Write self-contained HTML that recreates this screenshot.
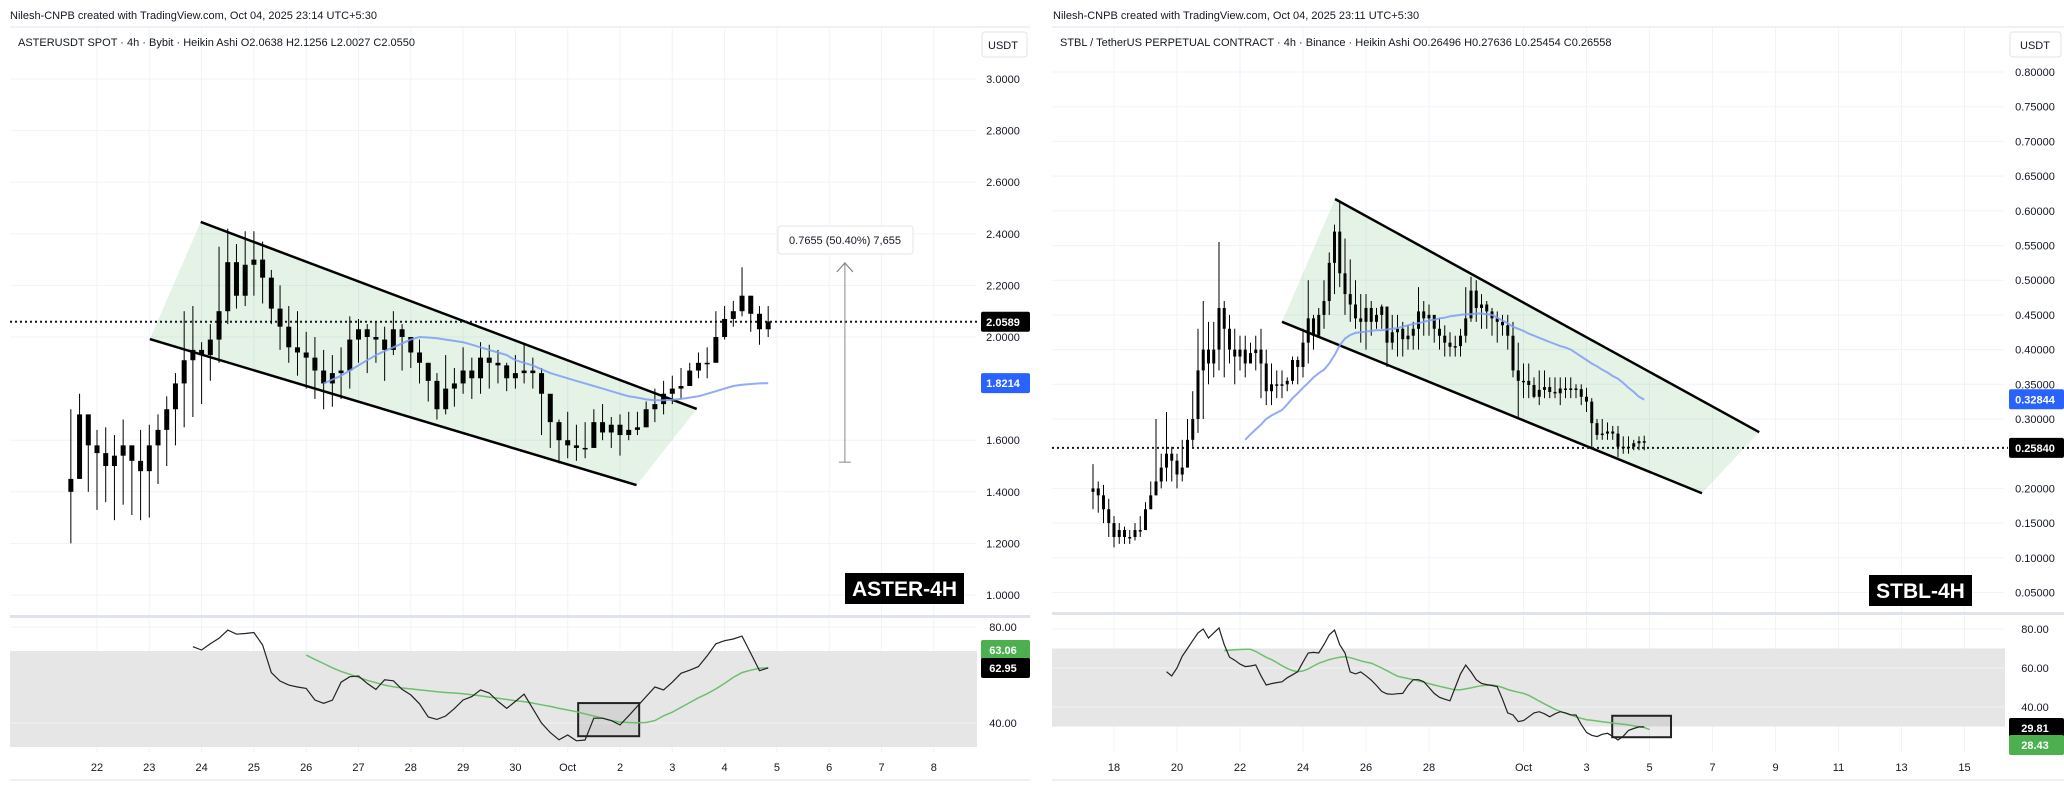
<!DOCTYPE html>
<html><head><meta charset="utf-8">
<style>
html,body{margin:0;padding:0;background:#fff;}
svg{display:block;font-family:"Liberation Sans",sans-serif;}
</style></head>
<body>
<svg id="c" width="2064" height="800" viewBox="0 0 2064 800">
  <text x="10" y="19" font-size="11" fill="#131722">Nilesh-CNPB created with TradingView.com, Oct 04, 2025 23:14 UTC+5:30</text>
  <text x="1053" y="19" font-size="11" fill="#131722">Nilesh-CNPB created with TradingView.com, Oct 04, 2025 23:11 UTC+5:30</text>
</svg>
<script>
// ===== LEFT CHART DATA (ASTER) =====
const asterFirstOpen = 1.40;
const asterClose = [1.45,1.70,1.58,1.55,1.50,1.54,1.58,1.52,1.48,1.58,1.64,1.72,1.82,1.91,1.95,1.93,1.99,2.10,2.29,2.16,2.28,2.30,2.23,2.11,2.04,1.96,1.94,1.92,1.87,1.82,1.86,1.87,1.99,2.03,2.00,1.99,1.95,2.03,2.00,1.94,1.90,1.83,1.72,1.80,1.82,1.87,1.84,1.92,1.90,1.89,1.84,1.86,1.87,1.86,1.78,1.67,1.60,1.58,1.57,1.57,1.67,1.63,1.66,1.62,1.64,1.65,1.72,1.74,1.78,1.80,1.81,1.87,1.90,1.90,2.00,2.07,2.10,2.16,2.09,2.03,2.06];
const asterHigh = [1.72,1.78,1.70,1.64,1.65,1.62,1.68,1.58,1.64,1.66,1.70,1.77,1.86,2.10,2.12,1.98,2.05,2.35,2.42,2.36,2.41,2.41,2.37,2.26,2.20,2.12,2.10,2.02,2.00,1.95,1.93,1.96,2.08,2.07,2.05,2.06,2.04,2.10,2.05,2.00,1.99,1.90,1.86,1.93,1.88,1.96,1.92,1.98,1.97,1.95,1.90,1.93,1.97,1.92,1.88,1.75,1.68,1.71,1.66,1.67,1.72,1.74,1.69,1.70,1.71,1.71,1.75,1.80,1.83,1.85,1.88,1.90,1.94,1.96,2.10,2.12,2.14,2.27,2.16,2.12,2.12];
const asterLow = [1.20,1.45,1.40,1.33,1.36,1.29,1.35,1.31,1.29,1.30,1.43,1.50,1.58,1.65,1.69,1.74,1.83,1.90,2.05,2.11,2.12,2.16,2.13,2.05,1.95,1.90,1.85,1.80,1.76,1.72,1.73,1.76,1.80,1.90,1.86,1.90,1.83,1.93,1.87,1.88,1.82,1.75,1.68,1.70,1.73,1.78,1.76,1.78,1.80,1.82,1.79,1.80,1.82,1.80,1.62,1.57,1.51,1.53,1.52,1.53,1.58,1.60,1.57,1.54,1.60,1.62,1.65,1.67,1.70,1.74,1.76,1.81,1.84,1.84,1.92,1.99,2.04,2.08,2.02,1.97,2.00];
const asterMaStart = 29;
const asterMa = [1.82,1.835,1.85,1.87,1.89,1.91,1.93,1.945,1.96,1.975,1.99,2.00,1.998,1.995,1.99,1.985,1.98,1.97,1.96,1.95,1.94,1.93,1.91,1.90,1.89,1.875,1.86,1.85,1.84,1.83,1.82,1.81,1.80,1.79,1.78,1.77,1.765,1.758,1.755,1.755,1.757,1.76,1.765,1.77,1.78,1.79,1.80,1.81,1.815,1.818,1.82,1.8214];
const asterRsiStart = 14;
const asterRsi = [71.8,70.4,73,75.3,78.7,77,77.3,77.7,72.5,61,57.5,55.8,55,54.4,49.6,48.2,49.5,57,59.3,59.6,56.5,54,58,57.6,54,51.7,48,42.5,41.5,42.9,46,49.6,51,53.8,52.5,49,46.1,49,52,46,40,36,33,35,32.6,32.9,42,42,41,39.2,43,47,51,55,53.8,57,60.7,62,63.5,68,73,74.3,75,76.2,69,61.8,62.95];
const asterRsiMaStart = 27;
const asterRsiMa = [68.3,66.5,64.8,63,61.5,60.3,59,57.8,56.8,55.8,55.1,54.6,54.2,53.8,53.4,53,52.7,52.5,52.2,51.8,51.3,50.8,50.3,49.8,49.3,48.9,48.3,47.6,46.9,46.1,45.4,44.7,43.8,42.9,42,41,40.4,40.2,40.1,40.2,41,43,44.5,46.5,48.5,50.5,52.2,54.2,56.5,59,61,62,62.8,63.06];
const asterPriceTicks = [3.0,2.8,2.6,2.4,2.2,2.0,1.6,1.4,1.2,1.0];
const asterRsiTicks = [80,40];
const asterDateLabels = ["22","23","24","25","26","27","28","29","30","Oct","2","3","4","5","6","7","8"];
const asterDateDays = [0,1,2,3,4,5,6,7,8,9,10,11,12,13,14,15,16];
const asterLast = 2.0589, asterMaLast = 1.8214;
const asterUpper = [[14.9,2.446],[71.8,1.721]];
const asterLower = [[9.06,1.992],[64.9,1.426]];
const asterMeasure = [88.8,1.515,2.287];

// ===== RIGHT CHART DATA (STBL) =====
const stblFirstOpen = 0.195;
const stblClose = [0.20,0.19,0.17,0.15,0.13,0.14,0.13,0.13,0.14,0.14,0.17,0.19,0.21,0.23,0.25,0.24,0.22,0.23,0.27,0.30,0.37,0.40,0.38,0.40,0.46,0.43,0.40,0.39,0.40,0.38,0.395,0.40,0.38,0.34,0.35,0.35,0.35,0.355,0.385,0.375,0.41,0.445,0.42,0.45,0.47,0.525,0.57,0.51,0.48,0.465,0.445,0.44,0.46,0.44,0.45,0.462,0.41,0.425,0.43,0.415,0.42,0.43,0.455,0.445,0.45,0.43,0.42,0.41,0.404,0.405,0.42,0.445,0.485,0.46,0.465,0.455,0.445,0.44,0.435,0.42,0.37,0.355,0.355,0.349,0.332,0.342,0.346,0.339,0.337,0.344,0.344,0.344,0.343,0.332,0.325,0.294,0.277,0.279,0.282,0.279,0.26,0.258,0.26,0.265,0.268,0.266];
const stblHigh = [0.235,0.21,0.205,0.185,0.16,0.15,0.145,0.14,0.15,0.16,0.18,0.21,0.30,0.25,0.31,0.26,0.25,0.27,0.30,0.34,0.43,0.47,0.44,0.44,0.555,0.47,0.45,0.43,0.42,0.42,0.41,0.42,0.43,0.40,0.38,0.37,0.37,0.36,0.39,0.39,0.43,0.50,0.45,0.46,0.50,0.54,0.58,0.615,0.56,0.53,0.50,0.48,0.48,0.47,0.46,0.465,0.46,0.45,0.45,0.44,0.435,0.44,0.49,0.47,0.465,0.44,0.445,0.435,0.425,0.42,0.43,0.49,0.505,0.50,0.48,0.47,0.46,0.455,0.45,0.45,0.44,0.41,0.38,0.38,0.36,0.37,0.37,0.36,0.36,0.36,0.36,0.36,0.35,0.35,0.345,0.33,0.30,0.30,0.295,0.29,0.29,0.275,0.275,0.27,0.275,0.276];
const stblLow = [0.17,0.165,0.15,0.13,0.115,0.12,0.12,0.12,0.125,0.13,0.14,0.17,0.19,0.20,0.21,0.21,0.20,0.21,0.23,0.26,0.28,0.30,0.35,0.36,0.37,0.36,0.38,0.35,0.37,0.36,0.38,0.37,0.33,0.32,0.32,0.33,0.33,0.34,0.35,0.35,0.36,0.38,0.40,0.42,0.43,0.45,0.48,0.49,0.45,0.44,0.43,0.41,0.40,0.42,0.43,0.43,0.375,0.40,0.39,0.39,0.40,0.40,0.40,0.42,0.42,0.41,0.40,0.39,0.39,0.39,0.39,0.41,0.44,0.44,0.43,0.43,0.42,0.41,0.42,0.40,0.36,0.30,0.33,0.33,0.33,0.32,0.33,0.33,0.33,0.32,0.33,0.33,0.33,0.32,0.31,0.26,0.27,0.27,0.27,0.27,0.245,0.25,0.25,0.255,0.255,0.255];
const stblMaStart = 29;
const stblMa = [0.270,0.278,0.285,0.292,0.300,0.305,0.309,0.313,0.321,0.330,0.337,0.345,0.352,0.360,0.366,0.371,0.380,0.392,0.406,0.416,0.421,0.424,0.425,0.426,0.427,0.428,0.428,0.429,0.430,0.431,0.433,0.435,0.437,0.438,0.440,0.442,0.443,0.445,0.446,0.448,0.449,0.450,0.451,0.451,0.452,0.452,0.451,0.450,0.446,0.442,0.438,0.433,0.430,0.427,0.423,0.420,0.417,0.414,0.411,0.408,0.405,0.403,0.400,0.395,0.390,0.385,0.380,0.376,0.371,0.367,0.362,0.358,0.352,0.345,0.339,0.332,0.328];
const stblRsiStart = 14;
const stblRsi = [58.1,55.9,60,66,70,74,78,80,75.4,78,80.5,72,65.6,64,62,60.7,61,61.6,56,51.3,52,52.5,52.9,55,56.5,58.1,63,67.7,68,67.7,72,77,79.5,72,67.7,58,57,58,56,53.8,51,48,46.7,46.5,46.8,47,51,54,54,53,50,47,45,44,43.2,50,57,61.5,58,54,52.1,51.5,51,50.4,44,37,35.9,32.5,33,35,37,37.6,36.5,35,36.5,37.6,37,36,35.9,31,27,25.5,24.8,26,26.5,25,23.1,25,28,29,29.8,29.81];
const stblRsiMaStart = 25;
const stblRsiMa = [68.9,69.2,69.4,69.5,69.6,69.6,68.5,67,65.5,64.3,62.8,61.2,59.8,58.7,58.1,58.5,59.5,61,62.4,63.4,64.3,65,65.5,65.8,65.3,64.5,63.7,63,62.5,61.3,60,58.6,57.2,55.8,55.2,54.6,54,53.4,52.7,52,51.3,50.6,50,49.4,48.8,48.8,49.3,49.8,50.4,50.9,51.2,51.3,50.8,50,49,48.2,47.6,47,46,44.5,43,41.6,40.2,38.8,37.8,36.8,35.9,35,34.2,33.5,33.2,32.8,32.4,32.1,31.8,31.5,31.2,30.8,30.3,29.9,29.5,28.43];
const stblPriceTicks = [0.80,0.75,0.70,0.65,0.60,0.55,0.50,0.45,0.40,0.35,0.30,0.20,0.15,0.10,0.05];
const stblRsiTicks = [80,60,40];
const stblDateLabels = ["18","20","22","24","26","28","Oct","3","5","7","9","11","13","15"];
const stblDateDays = [0,2,4,6,8,10,13,15,17,19,21,23,25,27];
const stblLast = 0.25840, stblMaLast = 0.32844;
const stblUpper = [[46.1,0.617],[126.9,0.281]];
const stblLower = [[36,0.44],[116,0.193]];

const NS = "http://www.w3.org/2000/svg";
const svg = document.getElementById('c');
function mk(tag, attrs, parent) {
  const e = document.createElementNS(NS, tag);
  for (const k in attrs) e.setAttribute(k, attrs[k]);
  (parent || svg).appendChild(e);
  return e;
}

function drawChart(cfg) {
  const g = mk('g', {});
  
  
  const yP = p => cfg.py0 + (cfg.pv0 - p) * cfg.pk;
  const yR = r => cfg.ry40 - (r - 40) * cfg.rk;
  const xDay = d => cfg.dx0 + d * cfg.dayW;
  const xI = i => xDay(cfg.i0Day + i / 6);

  const top = mk('line', {x1: cfg.L, x2: cfg.R, y1: 27, y2: 27, stroke: '#e0e3eb', 'stroke-width': 1}, g);
  
  
  const bot = mk('line', {x1: cfg.L, x2: cfg.R, y1: 780, y2: 780, stroke: '#e0e3eb', 'stroke-width': 1}, g);
  
  

  cfg.dateDays.forEach((d, k) => {
    const gl = mk('line', {x1: xDay(d), x2: xDay(d), y1: 28, y2: 752, stroke: '#f0f3fa', 'stroke-width': 1}, g);
    
    
    const t = mk('text', {x: xDay(d), y: 771, 'font-size': 11, fill: '#131722', 'text-anchor': 'middle'}, g);
    t.textContent = cfg.dateLabels[k];
    
    
  });
  cfg.priceTicks.forEach(p => {
    const gl = mk('line', {x1: cfg.L, x2: cfg.axisX - 4, y1: yP(p), y2: yP(p), stroke: '#f0f3fa', 'stroke-width': 1}, g);
    
    
    const t = mk('text', {x: cfg.axisC, y: yP(p) + 4, 'font-size': 11, fill: '#131722', 'text-anchor': 'middle'}, g);
    t.textContent = p.toFixed(cfg.dec);
    
    
  });

  const sep = mk('rect', {x: cfg.L, y: cfg.sepY, width: cfg.R - cfg.L, height: 3, fill: '#e0e3eb'}, g);
  
  

  const ub = mk('rect', {x: cfg.axisX + 2, y: 32, width: cfg.R - cfg.axisX - 5, height: 25, rx: 3, fill: '#fff', stroke: '#e0e3eb'}, g);
  
  
  const ut = mk('text', {x: cfg.axisC, y: 49, 'font-size': 11, fill: '#131722', 'text-anchor': 'middle'}, g);
  ut.textContent = 'USDT';
  
  

  const sym = mk('text', {x: cfg.symX, y: 46, 'font-size': 11, fill: '#131722'}, g);
  sym.textContent = cfg.symbol;
  
  

  const u = cfg.upper, l = cfg.lower;
  const poly = [[xI(l[0][0]), yP(l[0][1])], [xI(u[0][0]), yP(u[0][1])], [xI(u[1][0]), yP(u[1][1])], [xI(l[1][0]), yP(l[1][1])]];
  const fill = mk('polygon', {points: poly.map(p => p.join(',')).join(' '), fill: 'rgba(76,175,80,0.15)'}, g);
  
  
  [u, l].forEach((ln, k) => {
    const e = mk('line', {x1: xI(ln[0][0]), y1: yP(ln[0][1]), x2: xI(ln[1][0]), y2: yP(ln[1][1]), stroke: '#000', 'stroke-width': 2.5}, g);
    
    
  });

  const dl = mk('line', {x1: cfg.L, x2: cfg.axisX, y1: yP(cfg.last), y2: yP(cfg.last), stroke: '#131722', 'stroke-width': 2, 'stroke-dasharray': '2,3'}, g);
  
  

  let prevC = cfg.firstOpen;
  cfg.close.forEach((c, i) => {
    const o = prevC; prevC = c;
    const x = xI(i);
    const w = mk('line', {x1: x, x2: x, y1: yP(cfg.high[i]), y2: yP(cfg.low[i]), stroke: '#000', 'stroke-width': 1}, g);
    
    
    const yt = yP(Math.max(o, c)), yb = yP(Math.min(o, c));
    const b = mk('rect', {x: x - cfg.bw / 2, y: yt, width: cfg.bw, height: Math.max(1.5, yb - yt), fill: '#000'}, g);
    
    
  });

  const maPts = cfg.ma.map((v, k) => xI(cfg.maStart + k).toFixed(1) + ',' + yP(v).toFixed(1)).join(' ');
  const ma = mk('polyline', {points: maPts, fill: 'none', stroke: '#7f9cf5', 'stroke-width': 2, opacity: 0.85}, g);
  
  

  const band = mk('rect', {x: cfg.L, y: yR(70), width: cfg.axisX - 3 - cfg.L, height: yR(30) - yR(70), fill: '#e6e6e6'}, g);
  
  
  cfg.rsiTicks.forEach(r => {
    const gl = mk('line', {x1: cfg.L, x2: cfg.axisX - 4, y1: yR(r), y2: yR(r), stroke: '#f0f3fa', 'stroke-width': 1}, g);
    
    
    const t = mk('text', {x: cfg.axisC, y: yR(r) + 4, 'font-size': 11, fill: '#131722', 'text-anchor': 'middle'}, g);
    t.textContent = r.toFixed(2);
    
    
  });
  const hb = cfg.box;
  const hr = mk('rect', {x: xI(hb[0]), y: yR(hb[3]), width: xI(hb[1]) - xI(hb[0]), height: yR(hb[2]) - yR(hb[3]), fill: 'rgba(0,0,0,0.08)', stroke: '#222', 'stroke-width': 2}, g);
  
  

  const rm = mk('polyline', {points: cfg.rsiMa.map((v, k) => xI(cfg.rsiMaStart + k).toFixed(1) + ',' + yR(v).toFixed(1)).join(' '), fill: 'none', stroke: '#6dbf6d', 'stroke-width': 1.5}, g);
  
  
  const rl = mk('polyline', {points: cfg.rsi.map((v, k) => xI(cfg.rsiStart + k).toFixed(1) + ',' + yR(v).toFixed(1)).join(' '), fill: 'none', stroke: '#222', 'stroke-width': 1.2}, g);
  
  

  cfg.tags.forEach(tg => {
    const y = tg.rsi ? yR(tg.v) : yP(tg.v);
    const r = mk('rect', {x: cfg.axisX + 1, y: y - 10, width: cfg.R - cfg.axisX - 1, height: 20, fill: tg.bg, rx: 2}, g);
    
    
    const t = mk('text', {x: cfg.axisC, y: y + 4, 'font-size': 11, 'font-weight': 'bold', fill: '#fff', 'text-anchor': 'middle'}, g);
    t.textContent = tg.text;
    
    
  });

  const wb = mk('rect', {x: cfg.wm[0], y: cfg.wm[1], width: cfg.wm[2], height: 31, fill: '#000'}, g);
  
  
  const wt = mk('text', {x: cfg.wm[0] + cfg.wm[2] / 2, y: cfg.wm[1] + 23, 'font-size': 21, 'font-weight': 'bold', fill: '#fff', 'text-anchor': 'middle'}, g);
  wt.textContent = cfg.wmText;
  
  
  return {xI, yP};
}

const A = drawChart({
  name: 'aster-chart', L: 10, R: 1030, axisX: 980, axisC: 1003, dec: 4,
  py0: 337, pv0: 2.0, pk: 258, ry40: 723, rk: 2.4, sepY: 615,
  dx0: 97, dayW: 52.3, i0Day: -0.5, bw: 5,
  symX: 18, symbol: 'ASTERUSDT SPOT · 4h · Bybit · Heikin Ashi  O2.0638  H2.1256  L2.0027  C2.0550',
  priceTicks: asterPriceTicks, rsiTicks: asterRsiTicks,
  dateLabels: asterDateLabels, dateDays: asterDateDays,
  firstOpen: asterFirstOpen, close: asterClose, high: asterHigh, low: asterLow,
  ma: asterMa, maStart: asterMaStart, rsi: asterRsi, rsiStart: asterRsiStart,
  rsiMa: asterRsiMa, rsiMaStart: asterRsiMaStart,
  upper: asterUpper, lower: asterLower, last: asterLast,
  box: [58.2, 65.2, 34.5, 48.3],
  tags: [{v: asterLast, text: '2.0589', bg: '#000', name: 'last-price'},
         {v: asterMaLast, text: '1.8214', bg: '#2962ff', name: 'ma-value'},
         {v: 70.4, rsi: true, text: '63.06', bg: '#4caf50', name: 'rsi-ma-value'},
         {v: 62.9, rsi: true, text: '62.95', bg: '#000', name: 'rsi-value'}],
  wm: [845, 573, 119], wmText: 'ASTER-4H'
});

const mx = A.xI(asterMeasure[0]);
const ml = mk('line', {x1: mx, x2: mx, y1: A.yP(asterMeasure[1]), y2: A.yP(asterMeasure[2]), stroke: '#888', 'stroke-width': 1});


const mt = mk('line', {x1: mx - 6, x2: mx + 6, y1: A.yP(asterMeasure[1]), y2: A.yP(asterMeasure[1]), stroke: '#888', 'stroke-width': 1});


const ma2 = mk('polyline', {points: (mx - 8) + ',' + (A.yP(asterMeasure[2]) + 9) + ' ' + mx + ',' + A.yP(asterMeasure[2]) + ' ' + (mx + 8) + ',' + (A.yP(asterMeasure[2]) + 9), fill: 'none', stroke: '#888', 'stroke-width': 1.2});


const mb = mk('rect', {x: 778, y: 226, width: 135, height: 28, rx: 3, fill: '#fff', stroke: '#e6e6e6'});


const mtx = mk('text', {x: 845, y: 244, 'font-size': 11, fill: '#131722', 'text-anchor': 'middle'});
mtx.textContent = '0.7655 (50.40%) 7,655';



drawChart({
  name: 'stbl-chart', L: 1052, R: 2064, axisX: 2008, axisC: 2035, dec: 5,
  py0: 72, pv0: 0.8, pk: 694, ry40: 707, rk: 1.95, sepY: 612,
  dx0: 1114, dayW: 31.5, i0Day: -0.667, bw: 3,
  symX: 1060, symbol: 'STBL / TetherUS PERPETUAL CONTRACT · 4h · Binance · Heikin Ashi  O0.26496  H0.27636  L0.25454  C0.26558',
  priceTicks: stblPriceTicks, rsiTicks: stblRsiTicks,
  dateLabels: stblDateLabels, dateDays: stblDateDays,
  firstOpen: stblFirstOpen, close: stblClose, high: stblHigh, low: stblLow,
  ma: stblMa, maStart: stblMaStart, rsi: stblRsi, rsiStart: stblRsiStart,
  rsiMa: stblRsiMa, rsiMaStart: stblRsiMaStart,
  upper: stblUpper, lower: stblLower, last: stblLast,
  box: [98.9, 110.1, 24.5, 35.5],
  tags: [{v: stblLast, text: '0.25840', bg: '#000', name: 'last-price'},
         {v: stblMaLast, text: '0.32844', bg: '#2962ff', name: 'ma-value'},
         {v: 29.2, rsi: true, text: '29.81', bg: '#000', name: 'rsi-value'},
         {v: 20.5, rsi: true, text: '28.43', bg: '#4caf50', name: 'rsi-ma-value'}],
  wm: [1869, 575, 103], wmText: 'STBL-4H'
});
</script>
</body></html>
